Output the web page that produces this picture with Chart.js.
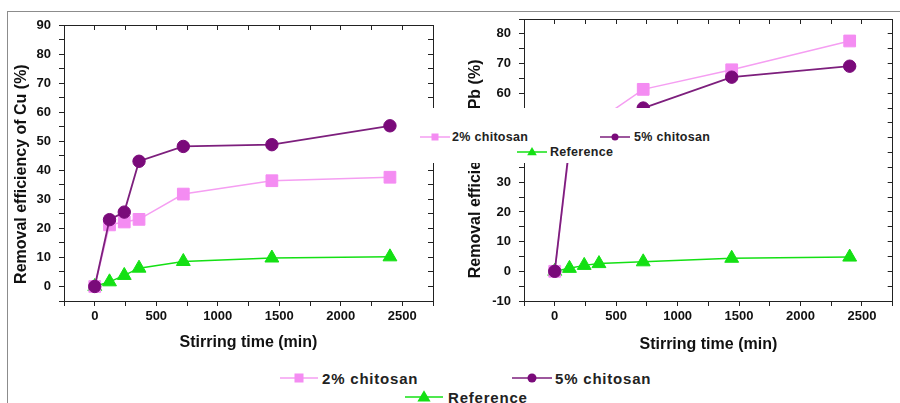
<!DOCTYPE html>
<html lang="en">
<head>
<meta charset="UTF-8">
<title>Removal efficiency vs stirring time</title>
<script src="https://cdn.jsdelivr.net/npm/chart.js"></script>
<style>
  body { margin: 0; background: #fff; font-family: "Liberation Sans", Arial, sans-serif; }
  #wrap { position: relative; width: 900px; height: 403px; overflow: hidden; background: #fff; }
  .frame { position: absolute; left: 7px; top: 11px; width: 900px; height: 400px;
           border-top: 1px solid #8c8c8c; border-left: 1px solid #8c8c8c; }
  #cuBox { position: absolute; left: 0; top: 0; width: 450px; height: 360px; }
  #pbBox { position: absolute; left: 450px; top: 0; width: 452px; height: 360px; }
  .band { position: absolute; left: 416px; top: 108px; width: 312px; height: 55px; background: #fff; }
  .leg { position: absolute; display: flex; align-items: center; font-weight: bold; color: #222;
         white-space: nowrap; transform: translateY(-50%); }
  .leg svg { display: block; }
  .small { font-size: 12.5px; letter-spacing: 0.3px; }
  .big { font-size: 15px; letter-spacing: 0.8px; }
</style>
</head>
<body>
<div id="wrap">
  <div class="frame"></div>
  <div id="cuBox"><canvas id="chart_cu"></canvas></div>
  <div id="pbBox"><canvas id="chart_pb"></canvas></div>
  <div class="band"></div>
  <div id="legends"></div>
</div>

<script>
// stirring time (min)
const stirringTime = [0, 120, 240, 360, 720, 1440, 2400];
const seriesNames = ['2% chitosan', '5% chitosan', 'Reference'];

// removal efficiency of Cu (%)
const cuChitosan2 = [0, 21.2, 22.2, 23.1, 31.8, 36.4, 37.6];
const cuChitosan5 = [0, 23.0, 25.6, 43.1, 48.2, 48.8, 55.3];
const cuReference = [0, 1.6, 3.8, 6.3, 8.6, 9.8, 10.2];

// removal efficiency of Pb (%) - 120..360 min partly hidden in the picture
const pbChitosan2 = [0, 41, 46, 51, 61.3, 67.9, 77.6];
const pbChitosan5 = [0, 42.6, 47, 50, 55.0, 65.4, 69.1];
const pbReference = [0, 1.0, 2.0, 2.6, 3.2, 4.4, 4.8];

// tick labels
const timeLabels = [0, 500, 1000, 1500, 2000, 2500];
const cuLabels = [0, 10, 20, 30, 40, 50, 60, 70, 80, 90];
const pbLabels = [-10, 0, 10, 20, 30, 40, 50, 60, 70, 80];

const FONT = '"Liberation Sans", Arial, sans-serif';
const PINK = '#f48cf2', PINK_LINE = '#f59ef2';
const PURPLE = '#7a0a7a', PURPLE_LINE = '#7d1f7d';
const GREEN = '#14e014';

Chart.defaults.font.family = FONT;

function points(values) {
    return stirringTime.map((t, i) => ({ x: t, y: values[i] }));
}

function datasets(c2, c5, ref) {
    return [
        { label: seriesNames[0], data: points(c2), order: 2, borderColor: PINK_LINE, borderWidth: 1.5,
          pointStyle: 'rect', pointRadius: 8.3, pointBackgroundColor: PINK, pointBorderColor: PINK, pointBorderWidth: 1 },
        { label: seriesNames[1], data: points(c5), order: 1, borderColor: PURPLE_LINE, borderWidth: 1.8,
          pointStyle: 'circle', pointRadius: 6.2, pointBackgroundColor: PURPLE, pointBorderColor: PURPLE, pointBorderWidth: 1 },
        { label: seriesNames[2], data: points(ref), order: 3, borderColor: GREEN, borderWidth: 1.5,
          pointStyle: 'triangle', pointRadius: 8, pointBackgroundColor: GREEN, pointBorderColor: GREEN, pointBorderWidth: 1 }
    ];
}

function makeChart(id, sets, yMin, yMax, yLabels, yTitle, g) {
    const axisFont = { family: FONT, size: 13, weight: 'bold' };
    const titleFont = { family: FONT, size: 16, weight: 'bold' };
    const outer = { drawOnChartArea: false, drawTicks: true, tickLength: 5, color: '#222', lineWidth: 1 };
    const inner = { drawOnChartArea: false, drawTicks: true, tickLength: -5, color: '#222', lineWidth: 1 };
    const border = { display: true, color: '#222', width: 1 };

    return new Chart(document.getElementById(id), {
        type: 'line',
        data: { datasets: sets },
        options: {
            responsive: true,
            maintainAspectRatio: false,
            animation: false,
            events: [],
            layout: { padding: { top: g.top, left: 0, right: g.right, bottom: 0 } },
            plugins: { legend: { display: false }, tooltip: { enabled: false } },
            scales: {
                x: {
                    type: 'linear', position: 'bottom', min: -250, max: 2750,
                    ticks: { stepSize: 250, autoSkip: false, maxRotation: 0, padding: 3, color: '#111', font: axisFont,
                             callback: v => timeLabels.includes(v) ? v : '' },
                    grid: outer, border: border,
                    title: { display: true, text: 'Stirring time (min)', color: '#111', font: titleFont,
                             padding: { top: 0, bottom: g.xTitlePad } },
                    afterFit: s => { s.height = 59; }
                },
                x2: {
                    type: 'linear', position: 'top', min: -250, max: 2750,
                    ticks: { stepSize: 250, display: false },
                    grid: inner, border: border,
                    afterFit: s => { s.height = 0; }
                },
                y: {
                    type: 'linear', position: 'left', min: yMin, max: yMax,
                    ticks: { stepSize: 5, autoSkip: false, padding: 8, color: '#111', font: axisFont,
                             callback: v => yLabels.includes(v) ? v : '' },
                    grid: outer, border: border,
                    // trailing spaces push the centred title a bit lower, like the original
                    title: { display: true, text: yTitle + '\u00a0'.repeat(g.ySpaces), color: '#111', font: titleFont,
                             padding: { top: g.yTitlePad, bottom: 0 } },
                    afterFit: s => { s.width = g.yWidth; }
                },
                y2: {
                    type: 'linear', position: 'right', min: yMin, max: yMax,
                    ticks: { stepSize: 5, display: false },
                    grid: inner, border: border,
                    afterFit: s => { s.width = 0; }
                }
            }
        }
    });
}

makeChart('chart_cu', datasets(cuChitosan2, cuChitosan5, cuReference), -5, 90, cuLabels,
    'Removal efficiency of Cu (%)', { top: 25, right: 17, yWidth: 64, yTitlePad: 12.4, ySpaces: 5, xTitlePad: 8 });

makeChart('chart_pb', datasets(pbChitosan2, pbChitosan5, pbReference), -10, 85, pbLabels,
    'Removal efficiency of Pb (%)', { top: 19, right: 1, yWidth: 74, yTitlePad: 16.4, ySpaces: 4, xTitlePad: 6 });

// legends (drawn as Origin style: line with marker in the middle)
const legendStyle = [
    { shape: 'rect', mark: PINK, line: PINK_LINE },
    { shape: 'circle', mark: PURPLE, line: PURPLE_LINE },
    { shape: 'triangle', mark: GREEN, line: GREEN }
];

function symbol(k, len, m) {
    const st = legendStyle[k];
    const h = Math.ceil(m * 1.4) + 2, cy = h / 2, cx = len / 2;
    let mark;
    if (st.shape === 'rect') {
        mark = `<rect x="${cx - m / 2}" y="${cy - m / 2}" width="${m}" height="${m}" fill="${st.mark}"/>`;
    } else if (st.shape === 'circle') {
        mark = `<circle cx="${cx}" cy="${cy}" r="${m / 2}" fill="${st.mark}"/>`;
    } else {
        mark = `<polygon points="${cx},${cy - m * 0.62} ${cx + m * 0.6},${cy + m * 0.42} ${cx - m * 0.6},${cy + m * 0.42}" fill="${st.mark}"/>`;
    }
    return `<svg width="${len}" height="${h}"><line x1="0" y1="${cy}" x2="${len}" y2="${cy}" stroke="${st.line}" stroke-width="1.5"/>${mark}</svg>`;
}

const legendItems = [
    // middle (overlaid) legend
    { k: 0, cls: 'small', x: 420, y: 137, len: 30, m: 7, gap: 2 },
    { k: 1, cls: 'small', x: 600, y: 137, len: 30, m: 7, gap: 4 },
    { k: 2, cls: 'small', x: 517, y: 152, len: 30, m: 8, gap: 3 },
    // bottom legend
    { k: 0, cls: 'big', x: 280, y: 378, len: 38, m: 9, gap: 4 },
    { k: 1, cls: 'big', x: 512, y: 378, len: 40, m: 9, gap: 3 },
    { k: 2, cls: 'big', x: 405, y: 397, len: 38, m: 11, gap: 5 }
];

let html = '';
for (const it of legendItems) {
    html += `<div class="leg ${it.cls}" style="left:${it.x}px;top:${it.y}px">` +
            symbol(it.k, it.len, it.m) +
            `<span style="margin-left:${it.gap}px">${seriesNames[it.k]}</span></div>`;
}
document.getElementById('legends').innerHTML = html;
</script>
</body>
</html>
